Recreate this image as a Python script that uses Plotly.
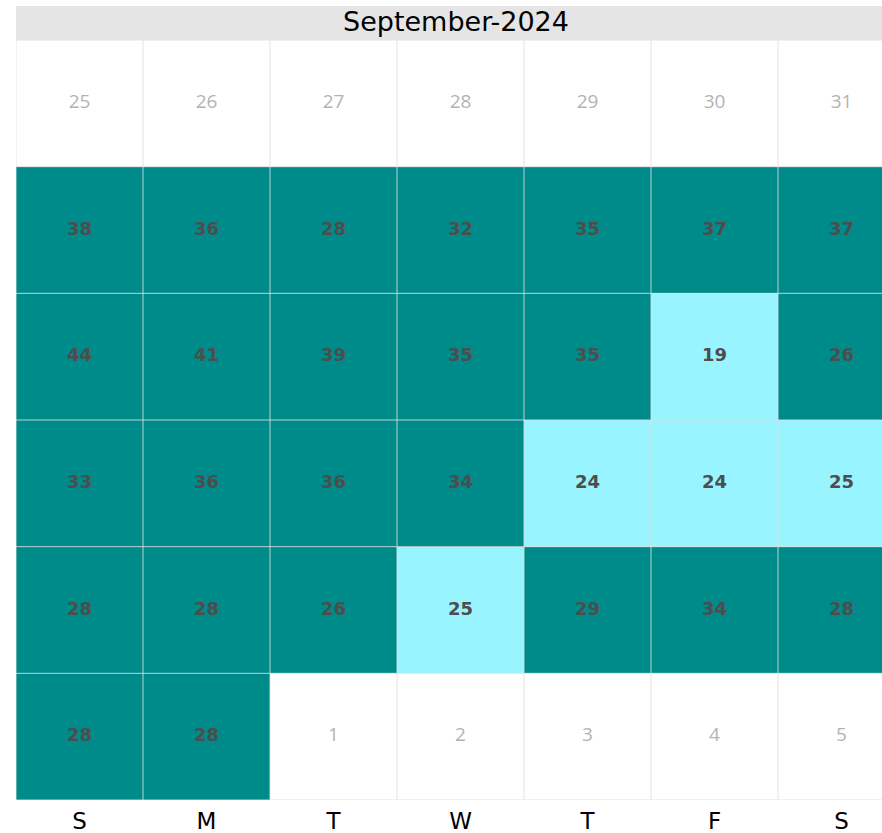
import plotly.graph_objects as go

# ---- data ----
month_title = "September-2024"
weekday_labels = ["S", "M", "T", "W", "T", "F", "S"]
prev_month_days = [25, 26, 27, 28, 29, 30, 31]
next_month_days = [1, 2, 3, 4, 5]
sept_values = [38, 36, 28, 32, 35, 37, 37,
               44, 41, 39, 35, 35, 19, 26,
               33, 36, 36, 34, 24, 24, 25,
               28, 28, 26, 25, 29, 34, 28,
               28, 28]
threshold = 25
first_offset = len(prev_month_days)

n_rows = 6
# category grid: 0 out of month, 1 low, 2 high
z = [[0] * 7 for _ in range(n_rows)]
val_x, val_y, val_t = [], [], []
for i, v in enumerate(sept_values):
    idx = first_offset + i
    r, c = divmod(idx, 7)
    z[r][c] = 1 if v <= threshold else 2
    val_x.append(c); val_y.append(r); val_t.append(str(v))

oth_x, oth_y, oth_t = [], [], []
for i, d in enumerate(prev_month_days):
    r, c = divmod(i, 7)
    oth_x.append(c); oth_y.append(r); oth_t.append(str(d))
start = first_offset + len(sept_values)
for i, d in enumerate(next_month_days):
    r, c = divmod(start + i, 7)
    oth_x.append(c); oth_y.append(r); oth_t.append(str(d))

fig = go.Figure()
fig.add_trace(go.Heatmap(
    z=z, x=list(range(7)), y=list(range(n_rows)),
    zmin=0, zmax=2,
    colorscale=[[0, "#FFFFFF"], [0.3333, "#FFFFFF"], [0.3334, "#98F5FF"],
                [0.6666, "#98F5FF"], [0.6667, "#008B8B"], [1, "#008B8B"]],
    showscale=False, hoverinfo="skip"))

fig.add_trace(go.Scatter(
    x=oth_x, y=oth_y, text=oth_t, mode="text",
    textfont=dict(family="Open Sans", size=19, color="#b3b3b3"),
    hoverinfo="skip", showlegend=False))
fig.add_trace(go.Scatter(
    x=val_x, y=val_y, text=val_t, mode="text",
    textfont=dict(family="DejaVu Sans", size=18, color="#4d4d4d", weight="bold"),
    hoverinfo="skip", showlegend=False))

grid_col = "rgba(222,222,222,0.85)"
shapes = []
for k in range(8):
    shapes.append(dict(type="line", xref="x", yref="y", x0=k - 0.5, x1=k - 0.5,
                       y0=-0.5, y1=n_rows - 0.5, line=dict(color=grid_col, width=1)))
for k in range(n_rows + 1):
    shapes.append(dict(type="line", xref="x", yref="y", x0=-0.5, x1=6.5,
                       y0=k - 0.5, y1=k - 0.5, line=dict(color=grid_col, width=1)))
# strip
shapes.append(dict(type="rect", xref="x", yref="paper", x0=-0.5, x1=6.5,
                   y0=1, y1=1 + 34 / 760, fillcolor="#e5e5e5", line=dict(width=0),
                   layer="below"))

fig.update_layout(
    width=882, height=833,
    margin=dict(l=16, r=0, t=40, b=33),
    paper_bgcolor="white", plot_bgcolor="white",
    shapes=shapes,
    annotations=[dict(text=month_title, xref="x", yref="paper", x=3 - 5 / 127,
                      y=1 + 19 / 760, showarrow=False, yanchor="middle",
                      font=dict(family="DejaVu Sans", size=27, color="black"))],
    xaxis=dict(range=[-0.5, 6.5 - 23 / 127], tickvals=list(range(7)),
               ticktext=weekday_labels, showgrid=False, zeroline=False,
               ticks="", ticklabelstandoff=5, automargin=False,
               tickfont=dict(family="DejaVu Sans", size=23, color="black"),
               fixedrange=True),
    yaxis=dict(range=[n_rows - 0.5, -0.5], showticklabels=False, showgrid=False,
               zeroline=False, ticks="", fixedrange=True, automargin=False),
)
fig.write_html(
    "out.html",
    config={"displayModeBar": False},
    post_script="document.body.style.margin='0';document.body.style.overflow='hidden';",
)
